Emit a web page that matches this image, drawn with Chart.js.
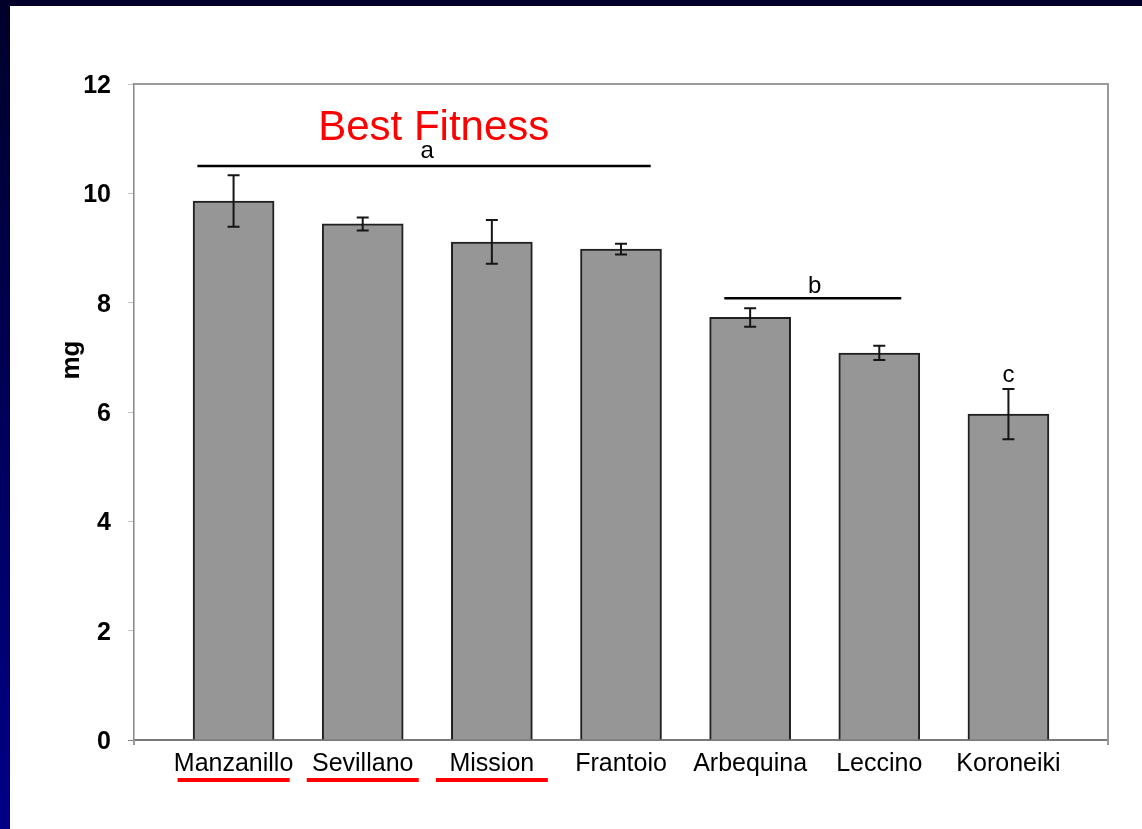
<!DOCTYPE html>
<html lang="en">
<head>
<meta charset="UTF-8">
<title>Olive cultivars - mg</title>
<script src="https://cdn.jsdelivr.net/npm/chart.js"></script>
<style>
  html, body { margin: 0; padding: 0; }
  body {
    width: 1142px; height: 829px; overflow: hidden; position: relative;
    background: linear-gradient(to bottom, #00002a, #000088);
  }
  #sheet { position: absolute; left: 10px; top: 6px; width: 1132px; height: 823px; background: #fff; }
</style>
</head>
<body>
<div id="sheet"><canvas id="fitnessChart" width="1132" height="823"></canvas></div>

<script>
// Data
const cultivars = ['Manzanillo', 'Sevillano', 'Mission', 'Frantoio', 'Arbequina', 'Leccino', 'Koroneiki'];
const meanMg = [9.86, 9.44, 9.11, 8.98, 7.73, 7.08, 5.96];
const errMg = [0.47, 0.12, 0.40, 0.10, 0.17, 0.13, 0.46];
const yTicks = [0, 2, 4, 6, 8, 10, 12];
const bestFitness = ['Manzanillo', 'Sevillano', 'Mission'];

// significance letters; bars are at x = 0..6, heights in mg
const groupLetters = ['a', 'b', 'c'];
const groupFrom = [-0.28, 3.80, null];
const groupTo = [3.23, 5.17, null];
const groupLineAt = [10.50, 8.08, null];
const groupLetterX = [1.50, 4.50, 6.00];
const groupLetterAt = [10.65, 8.17, 6.54];

const headline = 'Best Fitness';
const headlineX = 1.55;
const headlineAt = 10.98;
const axisTitle = 'mg';
const axisTitleAt = 6.95;

const FONT = "'Liberation Sans', Arial, sans-serif";

// frame, error bars, letters and the red highlight
const extras = {
    id: 'extras',
    afterDatasetsDraw(chart) {
        const {ctx, scales: {x, y}} = chart;
        ctx.save();
        ctx.strokeStyle = '#151515';
        ctx.lineWidth = 2;
        meanMg.forEach((m, i) => {
            const px = x.getPixelForValue(i);
            const top = y.getPixelForValue(m + errMg[i]);
            const bot = y.getPixelForValue(m - errMg[i]);
            ctx.beginPath();
            ctx.moveTo(px, top); ctx.lineTo(px, bot);
            ctx.moveTo(px - 6, top); ctx.lineTo(px + 6, top);
            ctx.moveTo(px - 6, bot); ctx.lineTo(px + 6, bot);
            ctx.stroke();
        });
        ctx.restore();
    },
    afterDraw(chart) {
        const {ctx, chartArea: a, scales: {x, y}} = chart;
        ctx.save();

        // top and right edges of the plot box
        ctx.strokeStyle = '#9a9a9a';
        ctx.lineWidth = 2;
        ctx.beginPath();
        ctx.moveTo(a.left, a.top);
        ctx.lineTo(a.right, a.top);
        ctx.lineTo(a.right, a.bottom + 5);
        ctx.moveTo(a.left, a.bottom);
        ctx.lineTo(a.left, a.bottom + 5);
        ctx.stroke();

        // group lines and letters
        ctx.fillStyle = '#000';
        ctx.strokeStyle = '#000';
        ctx.lineWidth = 2.5;
        ctx.font = '24px ' + FONT;
        ctx.textAlign = 'center';
        ctx.textBaseline = 'alphabetic';
        groupLetters.forEach((g, i) => {
            if (groupFrom[i] !== null) {
                const py = y.getPixelForValue(groupLineAt[i]);
                ctx.beginPath();
                ctx.moveTo(x.getPixelForValue(groupFrom[i]), py);
                ctx.lineTo(x.getPixelForValue(groupTo[i]), py);
                ctx.stroke();
            }
            ctx.fillText(g, x.getPixelForValue(groupLetterX[i]), y.getPixelForValue(groupLetterAt[i]));
        });

        // headline
        ctx.fillStyle = '#ff0000';
        ctx.font = '42px ' + FONT;
        ctx.fillText(headline, x.getPixelForValue(headlineX), y.getPixelForValue(headlineAt));

        // red underline under the best cultivars
        ctx.fillStyle = '#ff0000';
        bestFitness.forEach(name => {
            const px = x.getPixelForValue(cultivars.indexOf(name));
            ctx.fillRect(px - 56, a.bottom + 38, 112, 4);
        });

        // y axis title
        ctx.fillStyle = '#000';
        ctx.font = 'bold 26px ' + FONT;
        ctx.translate(62, y.getPixelForValue(axisTitleAt));
        ctx.rotate(-Math.PI / 2);
        ctx.textBaseline = 'middle';
        ctx.fillText(axisTitle, 0, 0);
        ctx.restore();
    }
};

new Chart(document.getElementById('fitnessChart'), {
    type: 'bar',
    data: {
        datasets: [{
            data: meanMg.map((m, i) => ({x: i, y: m})),
            backgroundColor: '#969696',
            borderColor: '#202020',
            borderWidth: 2,
            barThickness: 81
        }]
    },
    options: {
        responsive: false,
        animation: false,
        devicePixelRatio: 1,
        layout: { padding: { left: 0, right: 34, top: 78, bottom: 0 } },
        plugins: { legend: { display: false }, tooltip: { enabled: false } },
        scales: {
            x: {
                type: 'linear',
                offset: false,
                min: -0.771,
                max: 6.771,
                afterBuildTicks: s => { s.ticks = cultivars.map((c, i) => ({value: i})); },
                afterFit: s => { s.height = 89; },
                grid: { display: false, drawTicks: false, offset: false },
                border: { display: true, color: '#7a7a7a', width: 2 },
                ticks: {
                    padding: 9,
                    color: '#000',
                    font: { family: FONT, size: 25 },
                    callback: v => cultivars[v] ?? ''
                }
            },
            y: {
                min: 0,
                max: 12,
                afterBuildTicks: s => { s.ticks = yTicks.map(v => ({value: v})); },
                afterFit: s => { s.width = 124; },
                grid: {
                    drawOnChartArea: false,
                    drawTicks: true,
                    tickLength: 6,
                    color: ctx => ctx.tick && ctx.tick.value === 0 ? '#808080' : '#c4c4c4'
                },
                border: { display: true, color: '#888888', width: 1.5 },
                ticks: {
                    padding: 17,
                    labelOffset: 2,
                    color: '#000',
                    font: { family: FONT, size: 25, weight: 'bold' }
                }
            }
        }
    },
    plugins: [extras]
});
</script>
</body>
</html>
